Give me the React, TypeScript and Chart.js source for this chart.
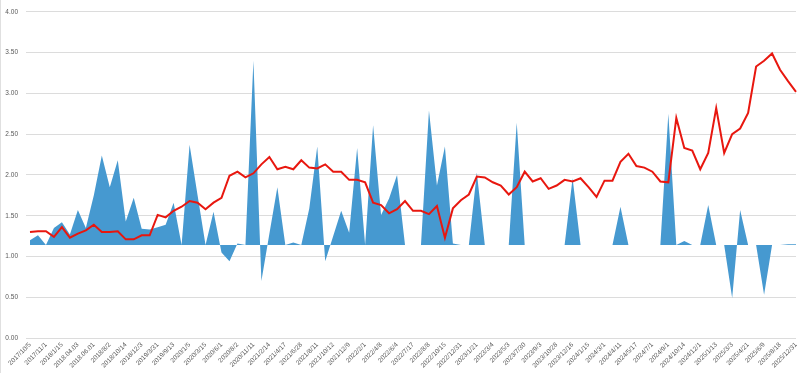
import React, { useEffect, useRef } from "react";
import { Chart, registerables } from "chart.js";

Chart.register(...registerables);

// Tick labels (every second point is labelled)
const tickLabels: string[] = [
  "2017/10/5", "2017/11/1", "2018/1/15", "2018.04.03", "2018.06.01", "2018/8/2",
  "2018/10/14", "2018/12/3", "2019/3/31", "2019/9/13", "2020/1/5", "2020/3/15",
  "2020/6/1", "2020/8/2", "2020/11/11", "2021/2/14", "2021/4/17", "2021/6/28",
  "2021/8/11", "2021/10/12", "2021/12/9", "2022/2/1", "2022/4/8", "2022/6/4",
  "2022/7/17", "2022/8/8", "2022/10/15", "2022/12/31", "2023/1/21", "2023/3/4",
  "2023/5/3", "2023/7/30", "2023/9/3", "2023/10/28", "2023/12/16", "2024/1/15",
  "2024/3/1", "2024/4/11", "2024/5/17", "2024/7/1", "2024/9/1", "2024/10/14",
  "2024/12/1", "2025/1/13", "2025/3/3", "2025/4/21", "2025/6/9", "2025/8/18",
  "2025/12/31",
];

// Red line series
const lineValues: number[] = [
  1.30, 1.31, 1.31, 1.24, 1.36, 1.23, 1.28, 1.32, 1.39, 1.30,
  1.30, 1.31, 1.21, 1.21, 1.26, 1.26, 1.51, 1.48, 1.56, 1.61,
  1.68, 1.66, 1.58, 1.66, 1.72, 1.99, 2.04, 1.97, 2.02, 2.13,
  2.22, 2.07, 2.10, 2.07, 2.18, 2.09, 2.08, 2.13, 2.04, 2.04,
  1.94, 1.94, 1.91, 1.66, 1.63, 1.53, 1.58, 1.68, 1.56, 1.56,
  1.52, 1.62, 1.23, 1.59, 1.69, 1.76, 1.98, 1.97, 1.91, 1.87,
  1.76, 1.85, 2.04, 1.92, 1.96, 1.83, 1.87, 1.94, 1.92, 1.96,
  1.85, 1.73, 1.93, 1.93, 2.16, 2.26, 2.11, 2.09, 2.04, 1.92,
  1.91, 2.70, 2.33, 2.30, 2.07, 2.27, 2.82, 2.27, 2.50, 2.57,
  2.76, 3.33, 3.40, 3.49, 3.29, 3.15, 3.02,
];

// Blue area series (filled to its baseline)
const areaBase = 1.14;
const areaValues: number[] = [
  1.20, 1.26, 1.14, 1.35, 1.42, 1.27, 1.57, 1.35, 1.75, 2.24,
  1.85, 2.18, 1.43, 1.72, 1.34, 1.33, 1.36, 1.39, 1.66, 1.14,
  2.37, 1.75, 1.14, 1.55, 1.05, 0.94, 1.16, 1.14, 3.40, 0.70,
  1.28, 1.85, 1.14, 1.17, 1.14, 1.59, 2.35, 0.94, 1.25, 1.56,
  1.29, 2.33, 1.14, 2.61, 1.51, 1.71, 2.00, 1.14, 1.14, 1.14,
  2.79, 1.87, 2.35, 1.16, 1.14, 1.14, 2.03, 1.14, 1.14, 1.14,
  1.14, 2.64, 1.14, 1.14, 1.14, 1.14, 1.14, 1.14, 1.96, 1.14,
  1.14, 1.14, 1.14, 1.14, 1.61, 1.14, 1.14, 1.14, 1.14, 1.14,
  2.75, 1.14, 1.19, 1.14, 1.14, 1.63, 1.14, 1.14, 0.49, 1.57,
  1.14, 1.14, 0.53, 1.14, 1.14, 1.15, 1.15,
];

const yTicks: number[] = [0, 0.5, 1, 1.5, 2, 2.5, 3, 3.5, 4];

// categories: tick labels interleaved with unlabelled points
const categories: string[] = lineValues.map((_, i) =>
  i % 2 === 0 ? tickLabels[i / 2] ?? "" : ""
);

const FONT = "'Liberation Sans', Arial, sans-serif";

export default function App() {
  const ref = useRef<HTMLCanvasElement | null>(null);

  useEffect(() => {
    document.body.style.margin = "0";
    if (!ref.current) return;
    const chart = new Chart(ref.current, {
      type: "line",
      data: {
        labels: categories,
        datasets: [
          {
            label: "line",
            data: lineValues,
            borderColor: "#e8170f",
            borderWidth: 2,
            pointRadius: 0,
            tension: 0,
            fill: false,
          },
          {
            label: "area",
            data: areaValues,
            borderWidth: 0,
            borderColor: "rgba(0,0,0,0)",
            backgroundColor: "#4699d0",
            pointRadius: 0,
            tension: 0,
            fill: { value: areaBase },
          },
        ],
      },
      options: {
        animation: false,
        responsive: false,
        maintainAspectRatio: false,
        layout: { padding: { top: 8, right: 4, left: 0, bottom: 0 } },
        plugins: {
          legend: { display: false },
          tooltip: { enabled: false },
        },
        scales: {
          x: {
            offset: false,
            grid: { display: false, drawTicks: false },
            border: { display: false },
            ticks: {
              autoSkip: false,
              minRotation: 45,
              maxRotation: 45,
              padding: 3,
              color: "#595959",
              font: { size: 6.5, family: FONT },
            },
            afterFit: (s: any) => {
              s.height = 35;
              s.paddingRight = 0;
              s.paddingLeft = 0;
            },
          },
          y: {
            min: 0,
            max: 4,
            afterBuildTicks: (s: any) => {
              s.ticks = yTicks.map((v) => ({ value: v }));
            },
            grid: {
              color: "#dcdcdc",
              lineWidth: 1,
              drawTicks: true,
              tickLength: 4,
            },
            border: { display: false },
            ticks: {
              padding: 8,
              color: "#595959",
              font: { size: 6.5, family: FONT },
              callback: (v: any) => Number(v).toFixed(2),
            },
            afterFit: (s: any) => {
              s.width = 30;
            },
          },
        },
      },
    });
    return () => chart.destroy();
  }, []);

  return (
    <div style={{ position: "relative", width: 800, height: 373, background: "#fff" }}>
      <canvas ref={ref} width={800} height={373} style={{ display: "block" }} />
      <div
        style={{
          position: "absolute",
          left: 0,
          top: 0,
          width: 1,
          height: 373,
          background: "#e0e0e0",
        }}
      />
    </div>
  );
}
